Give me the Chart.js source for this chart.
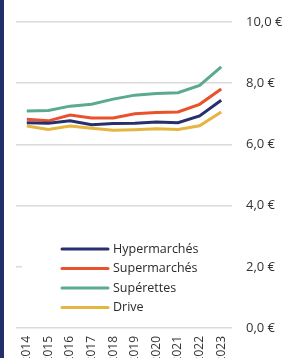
<!DOCTYPE html>
<html><head><meta charset="utf-8">
<script src="https://cdn.jsdelivr.net/npm/chart.js@4.4.1/dist/chart.umd.min.js"></script>
<style>html,body{margin:0;padding:0;background:#fff;overflow:hidden}canvas{display:block}</style>
</head><body>
<canvas id="c" width="286" height="358"></canvas>
<script>
const years = ['2014','2015','2016','2017','2018','2019','2020','2021','2022','2023'];
const hypermarches = [6.71,6.69,6.77,6.64,6.68,6.69,6.73,6.71,6.93,7.44];
const supermarches = [6.82,6.77,6.96,6.86,6.86,7.00,7.04,7.06,7.31,7.81];
const superettes   = [7.09,7.11,7.25,7.31,7.48,7.61,7.66,7.69,7.93,8.53];
const drive        = [6.60,6.49,6.60,6.53,6.46,6.48,6.51,6.49,6.61,7.06];
const seriesNames = ['Hypermarchés','Supermarchés','Supérettes','Drive'];
const seriesColors = ['#25306d','#e9522c','#5aab8c','#e4b540'];
const yTicks = [0,2,4,6,8,10];
const FONT = '"Open Sans", "DejaVu Sans", sans-serif';

const sidebar = {
  id:'sidebar',
  beforeDraw(chart){
    const ctx = chart.ctx;
    ctx.save();
    ctx.fillStyle = '#22306a';
    ctx.fillRect(0,0,4,chart.height);
    ctx.restore();
  }
};
const legendBox = {
  id:'legendBox',
  afterDatasetsDraw(chart){
    const ctx = chart.ctx;
    const ca = chart.chartArea;
    ctx.save();
    ctx.fillStyle = '#fff';
    ctx.fillRect(ca.left+6, 236, ca.right-ca.left-6, 82);
    chart.data.datasets.forEach((ds,i)=>{
      const y = 249 + i*19.5;
      ctx.strokeStyle = ds.borderColor;
      ctx.lineWidth = 3;
      ctx.lineCap = 'round';
      ctx.beginPath(); ctx.moveTo(62,y); ctx.lineTo(108,y); ctx.stroke();
      ctx.fillStyle = '#2b2b2b';
      ctx.font = '12.5px ' + FONT;
      ctx.textBaseline = 'middle';
      ctx.textAlign = 'left';
      ctx.fillText(ds.label, 113, y);
    });
    ctx.restore();
  }
};

new Chart(document.getElementById('c'), {
  type:'line',
  data:{
    labels: years,
    datasets:[hypermarches,supermarches,superettes,drive].map((d,i)=>({
      label: seriesNames[i], data: d, borderColor: seriesColors[i], backgroundColor: seriesColors[i],
      borderWidth: 3, pointRadius: 0, tension: 0, fill:false
    }))
  },
  options:{
    responsive:false, animation:false, devicePixelRatio:1,
    layout:{padding:{left:16, top:22, right:0, bottom:0}},
    plugins:{legend:{display:false}, tooltip:{enabled:false}},
    scales:{
      x:{
        offset:true,
        grid:{display:false, drawTicks:false},
        border:{display:false},
        ticks:{autoSkip:false, minRotation:90, maxRotation:90, padding:8, color:'#333', font:{family:FONT, size:12}},
        afterFit(s){ s.height = 30; }
      },
      y:{
        position:'right', min:0, max:10,
        afterBuildTicks(s){ s.ticks = yTicks.map(v=>({value:v})); },
        grid:{color:'#dadada', lineWidth:1.5, drawTicks:false},
        border:{display:false},
        ticks:{padding:14, color:'#333', font:{family:FONT, size:13},
          callback:(v)=> v.toFixed(1).replace('.',',') + ' €'},
        afterFit(s){ s.width = 54; }
      }
    }
  },
  plugins:[sidebar, legendBox]
});
</script>
</body></html>
